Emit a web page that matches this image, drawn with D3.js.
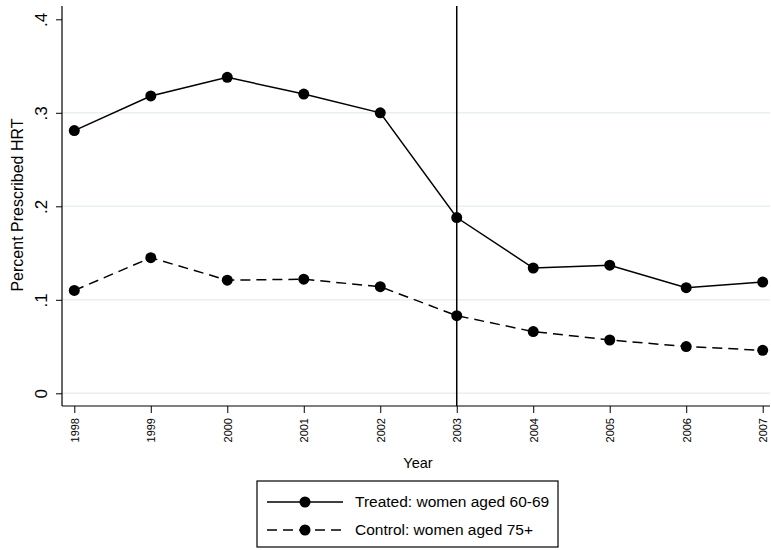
<!DOCTYPE html>
<html>
<head>
<meta charset="utf-8">
<script src="https://cdn.jsdelivr.net/npm/d3@7"></script>
<style>
  body { margin: 0; background: #fff; }
  svg { font-family: "Liberation Sans", Arial, Helvetica, sans-serif; }
</style>
</head>
<body>
<div id="chart1"></div>
<script>
const years = [1998, 1999, 2000, 2001, 2002, 2003, 2004, 2005, 2006, 2007];
const treated = [0.281, 0.318, 0.338, 0.320, 0.300, 0.188, 0.134, 0.137, 0.113, 0.119];
const control = [0.110, 0.145, 0.121, 0.122, 0.114, 0.083, 0.066, 0.057, 0.050, 0.046];
const yTicks = [0, 0.1, 0.2, 0.3, 0.4];
const yTickLabels = ["0", ".1", ".2", ".3", ".4"];
const seriesNames = ["Treated: women aged 60-69", "Control: women aged 75+"];

const width = 771;
const height = 550;

const svg = d3.select("#chart1") // the whole picture
    .append("svg")
    .attr("width", width)
    .attr("height", height)
    .attr("viewBox", [0, 0, width, height]);

const x = d3.scaleLinear()
    .domain([1998, 2007])
    .range([74.3, 762.7]);

const y = d3.scaleLinear()
    .domain([0, 0.4])
    .range([393.3, 19.3]);

const axisY = 406;  // bottom axis line
const axisX = 62;   // left axis line

// gridlines
svg.append("g")
    .selectAll("line")
    .data(yTicks.slice(0, 4))
    .join("line")
    .attr("x1", axisX)
    .attr("x2", 770)
    .attr("y1", d => y(d))
    .attr("y2", d => y(d))
    .attr("stroke", "#e8f0f2")
    .attr("stroke-width", 1.5);

// y axis
const yAxis = svg.append("g")
    .attr("transform", `translate(${axisX},0)`)
    .call(d3.axisLeft(y).tickValues(yTicks).tickFormat((d, i) => yTickLabels[i]).tickSize(6).tickSizeOuter(0));
yAxis.select(".domain").remove();
yAxis.append("line")
    .attr("x1", 0).attr("x2", 0)
    .attr("y1", 6).attr("y2", axisY)
    .attr("stroke", "#000").attr("stroke-width", 1.2);
yAxis.selectAll(".tick line").attr("stroke", "#000");
yAxis.selectAll(".tick text")
    .attr("transform", "rotate(-90)")
    .attr("x", 0)
    .attr("y", -15)
    .attr("dy", 0)
    .attr("text-anchor", "middle")
    .attr("font-size", 17)
    .attr("font-family", "Liberation Sans, Arial, sans-serif")
    .attr("fill", "#000");

// x axis
const xAxis = svg.append("g")
    .attr("transform", `translate(0,${axisY})`)
    .call(d3.axisBottom(x).tickValues(years).tickFormat(d3.format("d")).tickSize(7).tickSizeOuter(0));
xAxis.select(".domain").remove();
xAxis.append("line")
    .attr("x1", axisX).attr("x2", 770)
    .attr("y1", 0).attr("y2", 0)
    .attr("stroke", "#000").attr("stroke-width", 1.2);
xAxis.selectAll(".tick line").attr("stroke", "#000");
xAxis.selectAll(".tick text")
    .attr("transform", "rotate(-90)")
    .attr("x", -12)
    .attr("y", 0)
    .attr("dy", "0.35em")
    .attr("text-anchor", "end")
    .attr("font-size", 11)
    .attr("font-family", "Liberation Sans, Arial, sans-serif")
    .attr("fill", "#000");

// axis titles
svg.append("text")
    .attr("transform", "translate(23,205) rotate(-90)")
    .attr("text-anchor", "middle")
    .attr("font-size", 16)
    .text("Percent Prescribed HRT");

svg.append("text")
    .attr("x", 418)
    .attr("y", 468)
    .attr("text-anchor", "middle")
    .attr("font-size", 14.5)
    .text("Year");

// vertical line at 2003
svg.append("line")
    .attr("x1", x(2003)).attr("x2", x(2003))
    .attr("y1", 6).attr("y2", axisY)
    .attr("stroke", "#000")
    .attr("stroke-width", 1.5);

const line = d3.line()
    .x((d, i) => x(years[i]))
    .y(d => y(d));

const series = [
    {name: seriesNames[0], values: treated, dash: null},
    {name: seriesNames[1], values: control, dash: "10,6"}
];

series.forEach(s => {
    svg.append("path")
        .datum(s.values)
        .attr("fill", "none")
        .attr("stroke", "#000")
        .attr("stroke-width", 1.5)
        .attr("stroke-dasharray", s.dash)
        .attr("d", line);

    svg.append("g")
        .selectAll("circle")
        .data(s.values)
        .join("circle")
        .attr("cx", (d, i) => x(years[i]))
        .attr("cy", d => y(d))
        .attr("r", 5.5)
        .attr("fill", "#000");
});

// legend
const legend = svg.append("g");
legend.append("rect")
    .attr("x", 257)
    .attr("y", 481)
    .attr("width", 301)
    .attr("height", 66)
    .attr("fill", "#fff")
    .attr("stroke", "#000")
    .attr("stroke-width", 1.2);

series.forEach((s, i) => {
    const ly = 502 + i * 28;
    legend.append("line")
        .attr("x1", 267).attr("x2", 343)
        .attr("y1", ly).attr("y2", ly)
        .attr("stroke", "#000")
        .attr("stroke-width", 1.5)
        .attr("stroke-dasharray", s.dash);
    legend.append("circle")
        .attr("cx", 305).attr("cy", ly)
        .attr("r", 5.5)
        .attr("fill", "#000");
    legend.append("text")
        .attr("x", 355)
        .attr("y", ly)
        .attr("dy", "0.35em")
        .attr("font-size", 15.5)
        .text(s.name);
});
</script>
</body>
</html>
